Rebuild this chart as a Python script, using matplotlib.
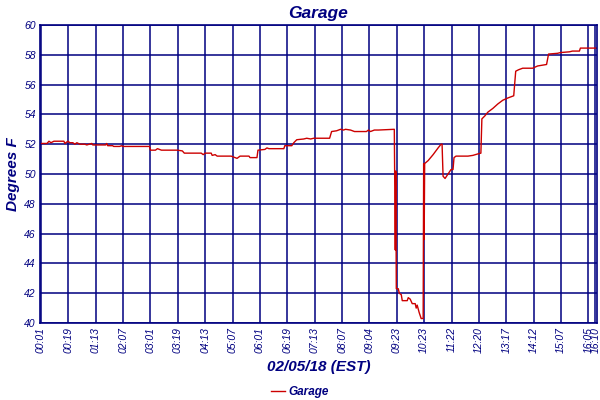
import matplotlib
matplotlib.use("Agg")
import matplotlib.pyplot as plt

# sample index (one tick interval = 55 samples) and temperature readings
sample = [0, 12, 16, 20, 26, 46, 48, 54, 58, 64, 68, 72, 78, 88, 92, 102, 104, 110,
          130, 132, 134, 144, 146, 158, 162, 164, 218, 220, 230, 234, 238, 242, 274,
          284, 288, 322, 326, 330, 342, 344, 350, 354, 382, 394, 400, 418, 420, 434,
          436, 450, 454, 458, 488, 490, 504, 508, 514, 528, 534, 542, 548, 580, 584,
          594, 602, 608, 612, 622, 630, 654, 658, 662, 670, 678, 710, 712, 713, 714,
          718, 720, 724, 726, 736, 738, 742, 746, 752, 754, 756, 760, 764, 768, 769,
          770, 771, 778, 788, 798, 804, 806, 808, 812, 816, 820, 824, 828, 830, 834,
          858, 868, 878, 884, 886, 892, 898, 908, 918, 928, 938, 950, 954, 960, 968,
          988, 998, 1016, 1020, 1038, 1044, 1062, 1068, 1082, 1084, 1116]
temp_f = [52.05, 52.05, 52.2, 52.1, 52.2, 52.2, 52.05, 52.2, 52.1, 52.1, 52.0, 52.1,
          52.0, 52.0, 51.95, 52.05, 51.95, 51.95, 51.95, 52.05, 51.9, 51.9, 51.85,
          51.85, 51.9, 51.85, 51.85, 51.6, 51.6, 51.7, 51.65, 51.6, 51.6, 51.55, 51.4,
          51.4, 51.3, 51.4, 51.4, 51.25, 51.3, 51.2, 51.2, 51.05, 51.2, 51.2, 51.1,
          51.1, 51.6, 51.65, 51.75, 51.7, 51.7, 51.9, 51.9, 52.1, 52.3, 52.35, 52.4,
          52.35, 52.4, 52.4, 52.85, 52.9, 53.0, 52.95, 53.0, 52.95, 52.85, 52.85,
          52.95, 52.85, 52.95, 52.95, 53.0, 44.9, 50.2, 42.3, 42.3, 42.0, 41.9, 41.5,
          41.5, 41.7, 41.6, 41.3, 41.3, 41.0, 41.2, 40.7, 40.3, 40.3, 50.7, 45.6,
          50.7, 50.9, 51.3, 51.75, 52.0, 52.0, 49.85, 49.7, 49.9, 50.1, 50.3, 50.3,
          51.1, 51.2, 51.2, 51.25, 51.35, 51.4, 53.7, 53.9, 54.15, 54.4, 54.7, 54.95,
          55.1, 55.25, 56.9, 57.0, 57.1, 57.1, 57.25, 57.35, 58.05, 58.1, 58.15, 58.2,
          58.25, 58.25, 58.45, 58.45]

tick_pos = [0, 55, 110, 165, 220, 275, 330, 385, 440, 495, 550, 605, 660, 715, 770,
            825, 880, 935, 990, 1045, 1100, 1114]
tick_labels = ["00:01", "00:19", "01:13", "02:07", "03:01", "03:19", "04:13", "05:07",
               "06:01", "06:19", "07:13", "08:07", "09:04", "09:23", "10:23", "11:22",
               "12:20", "13:17", "14:12", "15:07", "16:05", "16:10"]
y_ticks = [40, 42, 44, 46, 48, 50, 52, 54, 56, 58, 60]

navy = "#000080"
red = "#cc0000"
plt.rcParams["font.family"] = ["Liberation Sans Narrow", "Liberation Sans", "DejaVu Sans"]

fig = plt.figure(figsize=(6, 4), dpi=100)
ax = fig.add_axes([0.0667, 0.1925, 0.928, 0.745])

ax.plot(sample, temp_f, color=red, lw=1.0, label="Garage")

ax.set_xlim(-2, 1117)
ax.set_ylim(40, 60)
ax.set_xticks(tick_pos)
ax.set_xticklabels(tick_labels, rotation=90, fontsize=7.5, style="italic", color=navy)
ax.set_yticks(y_ticks)
ax.set_yticklabels([str(v) for v in y_ticks], fontsize=7.5, style="italic", color=navy)
ax.tick_params(length=0, pad=3)
ax.grid(True, color=navy, lw=1.1)
ax.set_axisbelow(True)
for s in ax.spines.values():
    s.set_color(navy)
    s.set_linewidth(1.2)

ax.set_title("Garage", fontsize=12.5, weight="bold", style="italic", color=navy, pad=5)
ax.set_ylabel("Degrees F", fontsize=11, weight="bold", style="italic", color=navy, labelpad=3)
ax.set_xlabel("02/05/18 (EST)", fontsize=11, weight="bold", style="italic", color=navy, labelpad=5)

leg = fig.legend(loc="lower center", bbox_to_anchor=(0.5, -0.022), frameon=False,
                 handlelength=1.2, handletextpad=0.3,
                 prop={"weight": "bold", "style": "italic", "size": 8.5})
for t in leg.get_texts():
    t.set_color(navy)

fig.savefig("out.png", dpi=100)
